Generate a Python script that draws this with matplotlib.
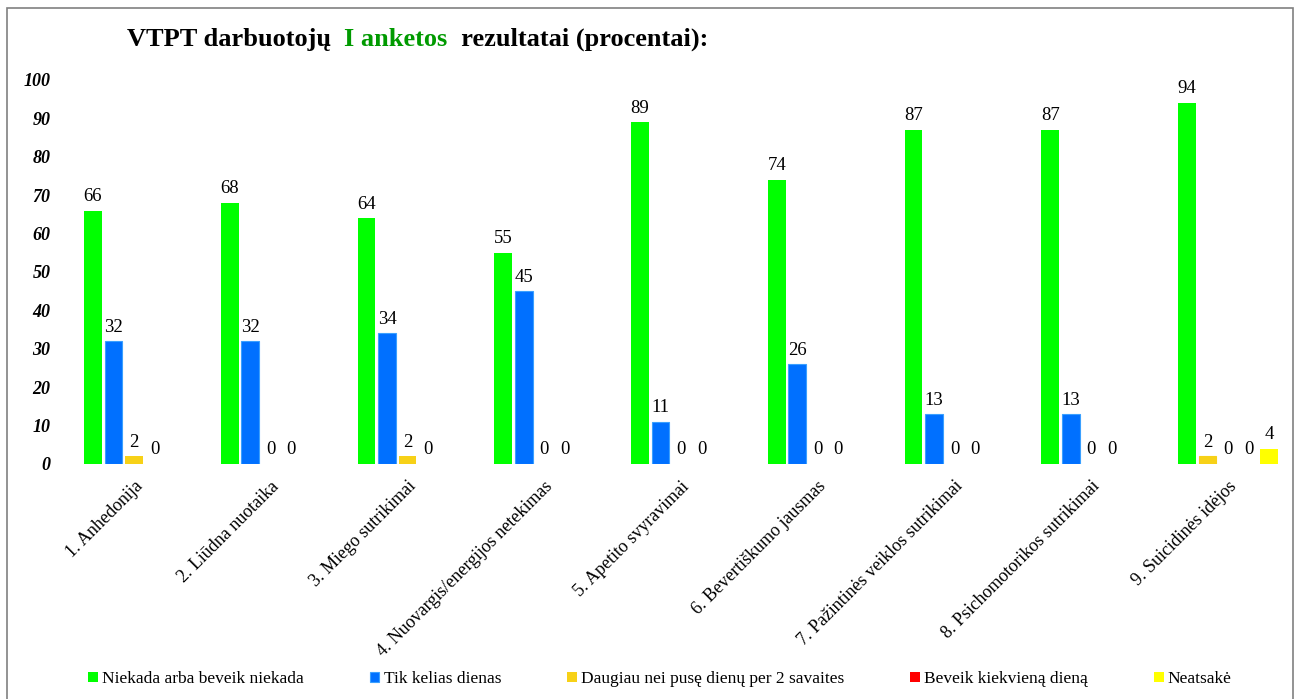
import numpy as np
import matplotlib
matplotlib.use('Agg')
import matplotlib.pyplot as plt
from matplotlib.patches import Rectangle

plt.rcParams['font.family'] = ['Liberation Serif', 'DejaVu Serif']

categories = ['1. Anhedonija', '2. Liūdna nuotaika', '3. Miego sutrikimai',
              '4. Nuovargis/energijos netekimas', '5. Apetito svyravimai',
              '6. Bevertiškumo jausmas', '7. Pažintinės veiklos sutrikimai',
              '8. Psichomotorikos sutrikimai', '9. Suicidinės idėjos']

series_names = ['Niekada arba beveik niekada', 'Tik kelias dienas',
                'Daugiau nei pusę dienų per 2 savaites', 'Beveik kiekvieną dieną',
                'Neatsakė']

niekada = [66, 68, 64, 55, 89, 74, 87, 87, 94]
tik_kelias = [32, 32, 34, 45, 11, 26, 13, 13, 2]
daugiau = [2, 0, 2, 0, 0, 0, 0, 0, 0]
beveik = [0, 0, 0, 0, 0, 0, 0, 0, 0]
neatsake = [np.nan] * 8 + [4]

colors = ['#00ff00', '#0070ff', '#f7d117', '#ff0000', '#ffff00']

W, H = 1299, 699
fig = plt.figure(figsize=(W / 100, H / 100), dpi=100)
ax = fig.add_axes([65.6 / W, (H - 464) / H, 1230.75 / W, 384 / H])

x = np.arange(len(categories))
slot = 0.15
width = 0.13
all_series = [niekada, tik_kelias, daugiau, beveik, neatsake]
containers = []
for i, (vals, col) in enumerate(zip(all_series, colors)):
    ec = '#3aa0ff' if i == 1 else col
    bars = ax.bar(x + (i - 2) * slot, vals, width=width, color=col,
                  edgecolor=ec, linewidth=0.8 if i == 1 else 0,
                  label=series_names[i])
    containers.append(bars)
    labels = ['' if np.isnan(v) else '%d' % v for v in np.asarray(vals, float)]
    ax.bar_label(bars, labels=labels, padding=4, fontsize=13.5)

# last group: second bar is drawn in the orange colour in the original
containers[1].patches[8].set_facecolor(colors[2])
containers[1].patches[8].set_edgecolor(colors[2])

ax.set_xlim(-0.5, 8.5)
ax.set_ylim(0, 100)
ax.set_yticks(np.arange(0, 101, 10))
ax.set_yticklabels([str(v) for v in range(0, 101, 10)], fontsize=13,
                   fontstyle='italic', fontweight='bold')
ax.set_xticks(x)
ax.set_xticklabels(categories, rotation=45, ha='right', va='top',
                   rotation_mode='anchor', fontsize=13)
ax.tick_params(axis='both', length=0)
ax.tick_params(axis='y', pad=11)
ax.tick_params(axis='x', pad=10)
for s in ax.spines.values():
    s.set_visible(False)

# title in three pieces (middle part green)
fig.canvas.draw()
r = fig.canvas.get_renderer()
parts = [('VTPT darbuotojų  ', 'black'), ('I anketos', '#009a00'),
         ('  rezultatai (procentai):', 'black')]
tx = 127
for txt, col in parts:
    t = fig.text(tx / W, 1 - 46 / H, txt, color=col, fontsize=19,
                 fontweight='bold', va='baseline', ha='left')
    tx += t.get_window_extent(r).width

fig.legend(handles=containers, labels=series_names, ncol=5, loc='center',
           bbox_to_anchor=(660 / W, 1 - 679 / H), frameon=False,
           handlelength=0.55, handleheight=0.55, handletextpad=0.25,
           columnspacing=3.8, fontsize=12.5)

fig.patches.append(Rectangle((7 / W, -0.02), 1286 / W, 1.02 - 8 / H,
                             transform=fig.transFigure, fill=False,
                             edgecolor='#808080', linewidth=1.2))

fig.savefig('out.png', dpi=100)
